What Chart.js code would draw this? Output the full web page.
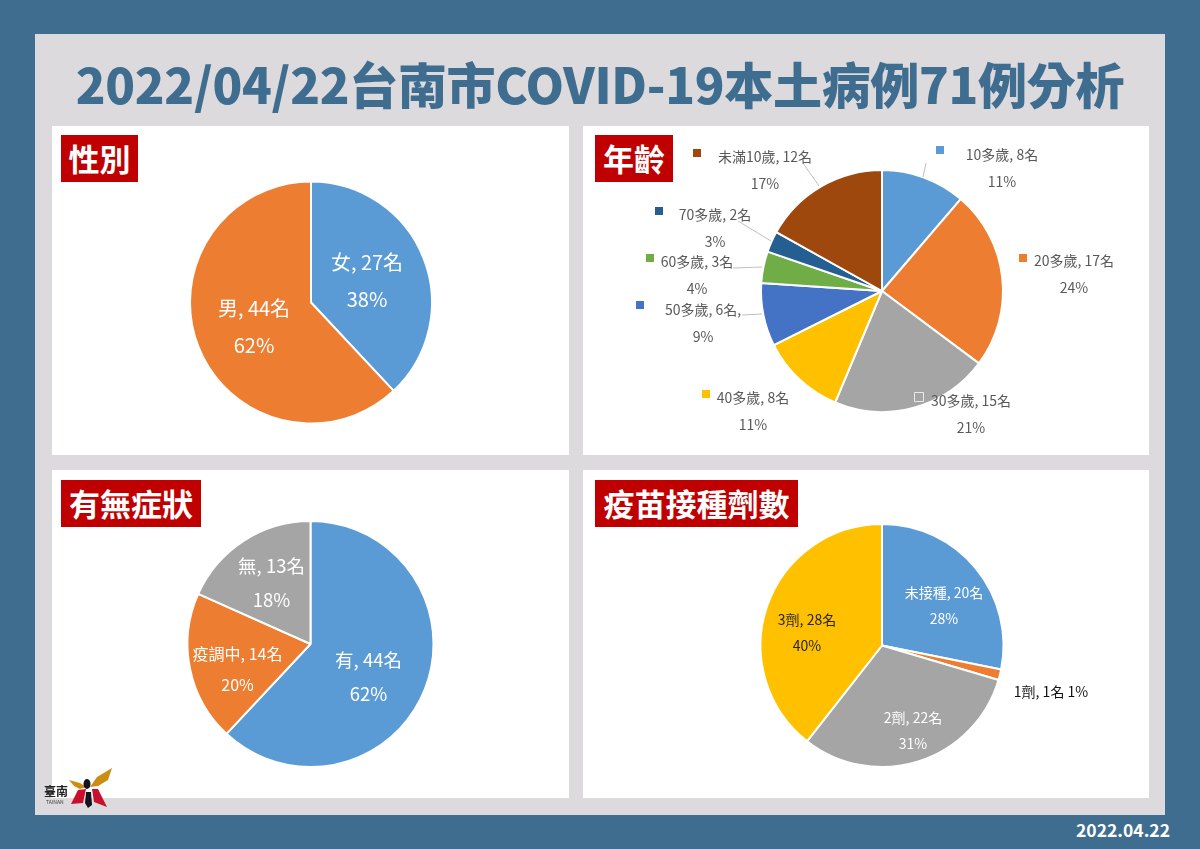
<!DOCTYPE html>
<html lang="zh-Hant">
<head>
<meta charset="utf-8">
<title>2022/04/22台南市COVID-19本土病例71例分析</title>
<script src="https://cdn.jsdelivr.net/npm/chart.js@4"></script>
<style>
  html, body { margin: 0; padding: 0; width: 1200px; height: 849px; overflow: hidden; background: #3f6d90; }
  body { font-family: "Noto Sans CJK TC", "Noto Sans", sans-serif; position: relative; }
  #sheet { position: absolute; left: 35px; top: 34px; width: 1130px; height: 781px; background: #dcdadc; }
  #title { position: absolute; left: 35px; top: 49px; width: 1130px; text-align: center; font-size: 49px; line-height: 68px; font-weight: 900; letter-spacing: -0.3px; color: #3f6d90; white-space: nowrap; }
  .panel { position: absolute; background: #fff; }
  .panel canvas { position: absolute; left: 0; top: 0; }
  .tag { position: absolute; height: 47px; line-height: 46px; background: #c00000; color: #fff; font-size: 31px; font-weight: 700; text-align: center; white-space: nowrap; }
  #date { position: absolute; right: 30px; top: 820px; font-size: 17.5px; line-height: 20px; font-weight: 700; color: #fff; }
  #logo { position: absolute; left: 40px; top: 765px; }
</style>
</head>
<body>
<div id="sheet"></div>
<div id="title">2022/04/22台南市COVID-19本土病例71例分析</div>

<div class="panel" style="left:52px;top:126px;width:517px;height:329px"><canvas id="genderChart" width="517" height="329"></canvas></div>
<div class="panel" style="left:583px;top:126px;width:566px;height:329px"><canvas id="ageChart" width="566" height="329"></canvas></div>
<div class="panel" style="left:52px;top:470px;width:517px;height:328px"><canvas id="symptomChart" width="517" height="328"></canvas></div>
<div class="panel" style="left:583px;top:470px;width:566px;height:328px"><canvas id="vaccineChart" width="566" height="328"></canvas></div>

<div class="tag" style="left:61px;top:135px;width:77px">性別</div>
<div class="tag" style="left:595px;top:135px;width:78px">年齡</div>
<div class="tag" style="left:61px;top:480px;width:140px">有無症狀</div>
<div class="tag" style="left:595px;top:480px;width:203px">疫苗接種劑數</div>

<svg id="logo" width="75" height="46" viewBox="40 765 75 46">
  <polygon fill="#c98f14" points="69,780 80,783 86,787 80,789 74,786"/>
  <polygon fill="#c98f14" points="90,787 97,777 112,768 108,780 98,786"/>
  <polygon fill="#c8102e" points="78,790 86,789 83,803 71,804"/>
  <polygon fill="#c8102e" points="92,789 98,789 107,807 94,802"/>
  <polygon fill="#14141e" points="86,792 91,792 92,805 88,808 85,803"/>
  <ellipse fill="#14141e" cx="87" cy="784" rx="3.5" ry="5"/>
  <text x="44" y="796" font-size="12" font-weight="700" fill="#222">臺南</text>
  <text x="46" y="804" font-size="5" fill="#444">TAINAN</text>
</svg>

<div id="date">2022.04.22</div>

<script>
// 性別
const genderCategories = ['女', '男'];
const genderValues = [27, 44];
const genderPercents = [38, 62];

// 年齡
const ageCategories = ['10多歲', '20多歲', '30多歲', '40多歲', '50多歲', '60多歲', '70多歲', '未滿10歲'];
const ageValues = [8, 17, 15, 8, 6, 3, 2, 12];
const agePercents = [11, 24, 21, 11, 9, 4, 3, 17];

// 有無症狀
const symptomCategories = ['有', '疫調中', '無'];
const symptomValues = [44, 14, 13];
const symptomPercents = [62, 20, 18];

// 疫苗接種劑數
const vaccineCategories = ['未接種', '1劑', '2劑', '3劑'];
const vaccineValues = [20, 1, 22, 28];
const vaccinePercents = [28, 1, 31, 40];

const officeColors = ['#5b9bd5', '#ed7d31', '#a5a5a5', '#ffc000', '#4472c4', '#70ad47', '#255e91', '#9e480e'];
const fontFamily = '"Noto Sans CJK TC", "Noto Sans", sans-serif';

// label text and its leader line / colour key, placed relative to the pie centre
const sliceLabels = {
  id: 'sliceLabels',
  afterDatasetsDraw(chart, args, opts) {
    const ctx = chart.ctx;
    const meta = chart.getDatasetMeta(0);
    const values = chart.data.datasets[0].data;
    const cx = meta.data[0].x;
    const cy = meta.data[0].y;
    ctx.save();
    ctx.textAlign = 'center';
    ctx.textBaseline = 'middle';

    (opts.lines || []).forEach(function (l) {
      ctx.strokeStyle = '#bfbfbf';
      ctx.lineWidth = 1;
      ctx.beginPath();
      ctx.moveTo(cx + l[0], cy + l[1]);
      ctx.lineTo(cx + l[2], cy + l[3]);
      ctx.stroke();
    });

    opts.places.forEach(function (p, i) {
      const name = chart.data.labels[i] + ', ' + values[i] + '名' + (p.suffix || '');
      const pct = opts.percents[i] + '%';
      ctx.font = (p.size || opts.size) + 'px ' + fontFamily;
      ctx.fillStyle = p.color || opts.color;
      if (p.inline) {
        ctx.fillText(name + ' ' + pct, cx + p.x, cy + p.y);
      } else {
        ctx.fillText(name, cx + p.x, cy + p.y);
        ctx.fillText(pct, cx + p.x, cy + p.y + (p.gap || opts.gap));
      }
      if (p.keyX !== undefined) {
        if (p.keyBorder) {
          ctx.strokeStyle = '#fff';
          ctx.lineWidth = 1.5;
          ctx.strokeRect(cx + p.keyX - 4, cy + p.keyY - 4, 8, 8);
        }
        ctx.fillStyle = chart.data.datasets[0].backgroundColor[i];
        ctx.fillRect(cx + p.keyX - 4, cy + p.keyY - 4, 8, 8);
      }
    });
    ctx.restore();
  }
};

function makePie(id, categories, values, padding, labelOpts) {
  return new Chart(document.getElementById(id).getContext('2d'), {
    type: 'pie',
    data: {
      labels: categories,
      datasets: [{
        data: values,
        backgroundColor: officeColors.slice(0, values.length),
        borderColor: '#ffffff',
        borderWidth: 2
      }]
    },
    options: {
      responsive: false,
      animation: false,
      layout: { padding: padding },
      plugins: {
        legend: { display: false },
        tooltip: { enabled: false },
        sliceLabels: labelOpts
      }
    },
    plugins: [sliceLabels]
  });
}

makePie('genderChart', genderCategories, genderValues,
  { left: 137, right: 136, top: 54, bottom: 30 },
  {
    percents: genderPercents, size: 20, gap: 37, color: '#ffffff',
    places: [{ x: 56, y: -40 }, { x: -57, y: 6 }]
  });

makePie('ageChart', ageCategories, ageValues,
  { left: 177, right: 145, top: 43, bottom: 42 },
  {
    percents: agePercents, size: 14, gap: 27, color: '#595959',
    lines: [
      [44, -128, 41, -114],
      [-79, -128, -63, -105],
      [-144, -70, -111, -50],
      [-149, -23, -120, -24],
      [-140, 24, -120, 23]
    ],
    places: [
      { x: 120, y: -136, keyX: 58, keyY: -141 },
      { x: 192, y: -30, keyX: 141, keyY: -33 },
      { x: 89, y: 110, keyX: 37, keyY: 106, keyBorder: true },
      { x: -129, y: 107, keyX: -176, keyY: 103 },
      { x: -179, y: 19, keyX: -242, keyY: 14, suffix: ',' },
      { x: -185, y: -29, keyX: -232, keyY: -33 },
      { x: -167, y: -76, keyX: -223, keyY: -80 },
      { x: -117, y: -134, keyX: -185, keyY: -138 }
    ]
  });

makePie('symptomChart', symptomCategories, symptomValues,
  { left: 134, right: 134, top: 50, bottom: 30 },
  {
    percents: symptomPercents, size: 18.5, gap: 34, color: '#ffffff',
    places: [
      { x: 58, y: 16 },
      { x: -73, y: 10, size: 16, gap: 31 },
      { x: -39, y: -78 }
    ]
  });

makePie('vaccineChart', vaccineCategories, vaccineValues,
  { left: 176, right: 144, top: 53, bottom: 30 },
  {
    percents: vaccinePercents, size: 14, gap: 26, color: '#ffffff',
    places: [
      { x: 62, y: -53 },
      { x: 169, y: 46, inline: true, color: '#111111' },
      { x: 31, y: 72 },
      { x: -75, y: -26, color: '#262626' }
    ]
  });
</script>
</body>
</html>
